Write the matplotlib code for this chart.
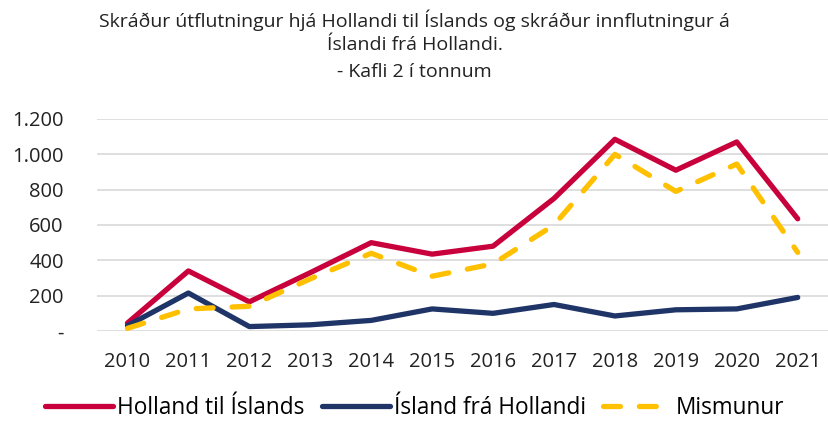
import matplotlib.pyplot as plt
from matplotlib.ticker import FuncFormatter

plt.rcParams['font.family'] = ['Open Sans', 'DejaVu Sans']

years = [2010, 2011, 2012, 2013, 2014, 2015, 2016, 2017, 2018, 2019, 2020, 2021]
holland_til_islands = [45, 340, 165, 330, 500, 435, 480, 750, 1085, 910, 1070, 635]
island_fra_hollandi = [30, 215, 25, 35, 60, 125, 100, 150, 85, 120, 125, 190]
mismunur = [15, 125, 140, 295, 440, 310, 380, 600, 1000, 790, 945, 445]

title_lines = ['Skráður útflutningur hjá Hollandi til Íslands og skráður innflutningur á',
               'Íslandi frá Hollandi.',
               '- Kafli 2 í tonnum']

fig = plt.figure(figsize=(8.29, 4.23), dpi=100)
ax = fig.add_axes([0.117, 0.2175, 0.882, 0.5012])

ax.plot(years, holland_til_islands, color='#C8003C', lw=3.8,
        solid_capstyle='round', label='Holland til Íslands')
ax.plot(years, island_fra_hollandi, color='#1F3467', lw=3.8,
        solid_capstyle='round', label='Ísland frá Hollandi')
ax.plot(years, mismunur, color='#FFC000', lw=3.8, dashes=(3.2, 3.6),
        dash_capstyle='round', label='Mismunur')

ax.set_xlim(2009.5, 2021.5)
ax.set_ylim(0, 1200)
ax.set_xticks(years)
ax.set_yticks(range(0, 1201, 200))


def fmt(v, pos):
    if v == 0:
        return '-'
    return f'{int(v):,}'.replace(',', '.')


ax.yaxis.set_major_formatter(FuncFormatter(fmt))
ax.grid(axis='y', color='#D9D9D9', lw=1.2)
ax.set_axisbelow(True)
for s in ax.spines.values():
    s.set_visible(False)
ax.tick_params(length=0, labelsize=14.5, colors='#222222')
ax.tick_params(axis='x', pad=15)
ax.tick_params(axis='y', pad=24)

# title, one line at a time
for txt, yy in zip(title_lines, [0.951, 0.893, 0.830]):
    fig.text(0.5, yy, txt, ha='center', va='center', fontsize=14, color='#222222')

fig.legend(loc='center', bbox_to_anchor=(0.5, 0.036), ncol=3, frameon=False,
           fontsize=16.3, handlelength=3.0, columnspacing=0.75, handletextpad=0.2,
           borderaxespad=0)

plt.savefig('out.png', dpi=100)
